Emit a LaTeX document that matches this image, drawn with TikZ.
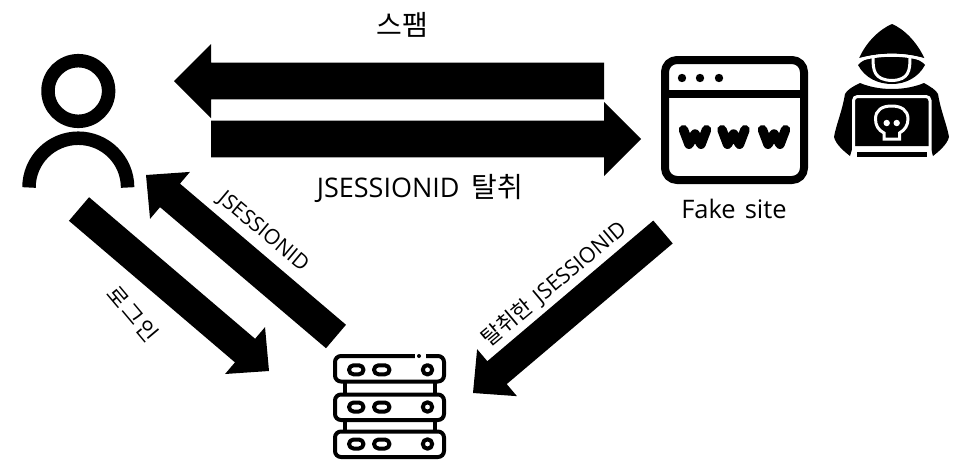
\documentclass[tikz,border=0pt]{standalone}
\usepackage{fontspec}
\setmainfont{Open Sans}
\newfontfamily\kr{Noto Sans CJK KR}
\usetikzlibrary{calc}
\tikzset{
  lab/.style={inner sep=0pt,text=black},
  ico/.style={draw=black,line width=#1,fill=none,line join=round},
  wh/.style={draw=white,line width=#1,fill=none,line cap=round},
  www/.style={draw=black,line width=9.5pt,line cap=round,line join=round},
}
\newcommand{\blockarrow}[5]{%
  \coordinate (h) at ($(#2)!#5!(#1)$);
  \fill[black] ($(#1)!#3!90:(#2)$) -- ($(h)!#3!90:(#2)$) -- ($(h)!#4!90:(#2)$) -- (#2)
     -- ($(h)!#4!-90:(#2)$) -- ($(h)!#3!-90:(#2)$) -- ($(#1)!#3!-90:(#2)$) -- cycle;}
\newcommand{\wletter}[1]{\draw[www,shift={(#1,0)}] (0,129.75) -- (5.5,144.25) -- (11.5,134) -- (17.5,144.25) -- (23,129.75);}
\begin{document}
\begin{tikzpicture}[x=1pt,y=-1pt]
\useasboundingbox (0,0) rectangle (962,469);
% arrow ends
\coordinate (spamS) at (604,81);
\coordinate (spamT) at (174,81);
\coordinate (stealS) at (211,139);
\coordinate (stealT) at (641,139);
\coordinate (loginS) at (79,209);
\coordinate (loginT) at (269,371);
\coordinate (jsS) at (336,336.5);
\coordinate (jsT) at (146,175);
\coordinate (fakeS) at (663,232);
\coordinate (fakeT) at (473,393);
\blockarrow{spamS}{spamT}{18.3pt}{37pt}{37pt}
\blockarrow{stealS}{stealT}{18.3pt}{37pt}{37pt}
\blockarrow{loginS}{loginT}{15.5pt}{30.8pt}{31.5pt}
\blockarrow{jsS}{jsT}{15.4pt}{30.8pt}{31.5pt}
\blockarrow{fakeS}{fakeT}{15pt}{30.8pt}{31.5pt}
% user
\draw[ico=13.5pt] (78.3,91) circle (30.3);
\draw[ico=13.5pt] (29,187.5) arc[start angle=180,end angle=360,radius=49.3];
% site
\draw[ico=8pt] (665,72) arc[start angle=180,end angle=90,radius=12,y radius=-12] -- (792,60) arc[start angle=90,end angle=0,radius=12,y radius=-12] -- (804,168) arc[start angle=0,end angle=-90,radius=12,y radius=-12] -- (677,180) arc[start angle=-90,end angle=-180,radius=12,y radius=-12] -- cycle;
\draw[ico=8pt] (665,94) -- (804,94);
\fill (682,78) circle (4.2) (700,78) circle (4.2) (719,78) circle (4.2);
\wletter{683.5}\wletter{722}\wletter{762.5}
% hacker
\fill[black] (860,83) .. controls (852,87) and (847,90) .. (845,94) .. controls (842,112) and (836,125) .. (834,137) .. controls (836,145) and (845,152) .. (850,156) -- (853,146) -- (930,146) -- (933,156) .. controls (938,152) and (947,145) .. (949,137) .. controls (947,125) and (941,112) .. (938,94) .. controls (936,90) and (931,87) .. (924,83) .. controls (905,91) and (879,91) .. (860,83) -- cycle;
\draw[wh=3pt] (853.5,157) -- (853.5,100.5) arc[start angle=180,end angle=90,radius=4,y radius=-4] -- (926,96.5) arc[start angle=90,end angle=0,radius=4,y radius=-4] -- (930,157);
\fill[black] (857,152) rectangle (927,157);
\fill[black] (858,65) .. controls (868,52) and (915,52) .. (925,65) .. controls (918,78) and (905,84) .. (892,84) .. controls (878,84) and (865,78) .. (858,65) -- cycle;
\draw[wh=3pt] (873,58) .. controls (873,70) and (874,80) .. (892,80.5) .. controls (909,80) and (910,70) .. (910,58);
\fill[black] (892,24) .. controls (880,29) and (866,42) .. (859,58.5) .. controls (880,52) and (904,52) .. (924.5,58.5) .. controls (917,42) and (904,29) .. (892,24) -- cycle;
\draw[draw=white,line width=3pt] (856,60.5) .. controls (880,53.5) and (904,53.5) .. (927,60.5);
\draw[wh=3pt] (884,133) -- (884,139) -- (899.5,139) -- (899.5,133) .. controls (905,130) and (908,125) .. (908,119) .. controls (908,110) and (901,106) .. (891.7,106) .. controls (882,106) and (875.5,110) .. (875.5,119) .. controls (875.5,125) and (878,130) .. (884,133) -- cycle;
\fill[white] (886.7,123) circle (3.2) (896.7,123) circle (3.2);
% server
\foreach \a/\b/\c in {356/381.5/369.8,394.5/420/407,431.5/457/444}{
  \draw[ico=4pt] (335,\a+6) arc[start angle=180,end angle=90,radius=6,y radius=-6] -- (438,\a) arc[start angle=90,end angle=0,radius=6,y radius=-6] -- (444,\b-6) arc[start angle=0,end angle=-90,radius=6,y radius=-6] -- (341,\b) arc[start angle=-90,end angle=-180,radius=6,y radius=-6] -- cycle;
  \draw[ico=4pt] (353.5,\c-4.5) -- (359,\c-4.5) arc[start angle=90,end angle=-90,radius=4.5,y radius=-4.5] -- (353.5,\c+4.5) arc[start angle=-90,end angle=-270,radius=4.5,y radius=-4.5] -- cycle;
  \draw[ico=4pt] (378.5,\c-4.5) -- (385,\c-4.5) arc[start angle=90,end angle=-90,radius=4.5,y radius=-4.5] -- (378.5,\c+4.5) arc[start angle=-90,end angle=-270,radius=4.5,y radius=-4.5] -- cycle;
  \draw[ico=4pt] (427.5,\c) circle (4.7);
}
\draw[ico=4pt] (345,381.5) -- (345,394.5) (435,381.5) -- (435,394.5) (345,420) -- (345,431.5) (435,420) -- (435,431.5);
\draw[draw=white,line width=6pt] (414.5,356) -- (425.5,356);
\fill (419,356) circle (2);
% labels
\node[lab,font=\kr\fontsize{28}{30}\selectfont] (spam) at (402,25) {스팸};
\node[lab,font=\fontsize{27}{30}\selectfont] (steal) at (420,188) {JSESSIONID\hspace{12pt}{\kr\fontsize{28}{30}\selectfont 탈취}};
\node[lab,font=\fontsize{25.5}{30}\selectfont] (fake) at (734,209) {Fake\hspace{9pt}site};
\node[lab,rotate=-40,font=\fontsize{21}{24}\selectfont] (js) at (263,232) {JSESSIONID};
\node[lab,rotate=-50,font=\kr\fontsize{22}{24}\selectfont] (login) at (133,314) {로\hspace{2pt}그\hspace{2pt}인};
\node[lab,rotate=40,font=\fontsize{21.5}{24}\selectfont] (fakejs) at (554,284) {{\kr 탈취한}\hspace{8pt}JSESSIONID};
\end{tikzpicture}
\end{document}
